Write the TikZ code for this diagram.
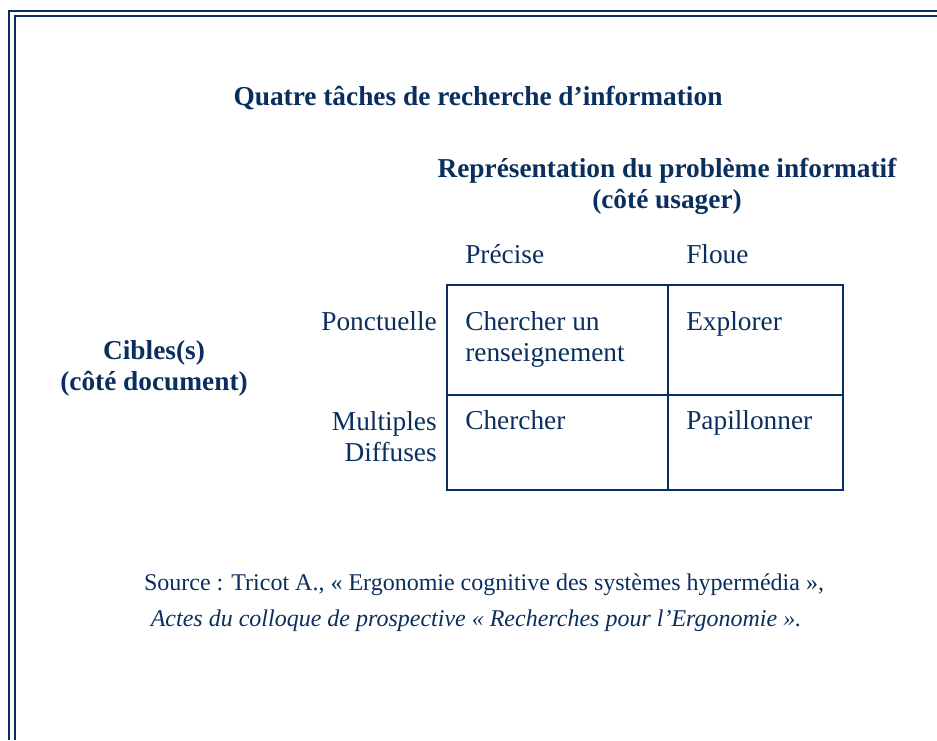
\documentclass[tikz,border=0pt]{standalone}
\usepackage{fontspec}
\setmainfont{Liberation Serif}
\usepackage{xcolor}
\usepackage{tikz}
\usetikzlibrary{positioning}
\definecolor{marine}{RGB}{10,46,94}

\begin{document}
\begin{tikzpicture}[x=0.75pt, y=-0.75pt,
        texte/.style={inner sep=0pt, text=marine, font=\fontsize{20.5}{23.25}\selectfont},
        gras/.style={texte, font=\fontsize{20.5}{23.25}\selectfont\bfseries},
        source/.style={inner sep=0pt, text=marine, font=\fontsize{18}{22}\selectfont},
        cadre/.style={draw=marine, line width=1.5pt},
        grille/.style={draw=marine, line width=1.9pt}]

        \useasboundingbox (0,0) rectangle (937,740);

        % Frame
        \draw [cadre] (9,740) -- (9,11) -- (937,11);
        \draw [cadre] (15,740) -- (15,16) -- (937,16);

        % Titles
        \node [gras, anchor=base] (titre) at (478,105) {Quatre tâches de recherche d'information};
        \node [gras, anchor=base] (repr) at (667,177) {Représentation du problème informatif};
        \node [gras, anchor=base] (usager) at (667,208) {(côté usager)};
        \node [gras, anchor=base] (cibles) at (154,359) {Cibles(s)};
        \node [gras, anchor=base] (document) at (154,390) {(côté document)};

        % Column and row headings
        \node [texte, anchor=base west] (precise) at (465,263) {Précise};
        \node [texte, anchor=base west] (floue) at (686,263) {Floue};
        \node [texte, anchor=base east] (ponct) at (437,330) {Ponctuelle};
        \node [texte, anchor=base east] (multi) at (437,430) {Multiples};
        \node [texte, anchor=base east] (diff) at (437,461) {Diffuses};

        % Grid
        \draw [grille] (447,285) rectangle (843,490);
        \draw [grille] (668,285) -- (668,490);
        \draw [grille] (447,395) -- (843,395);

        % Cells
        \node [texte, anchor=base west] (rens) at (465,330) {Chercher un};
        \node [texte, anchor=base west] (rens2) at (465,361) {renseignement};
        \node [texte, anchor=base west] (expl) at (686,330) {Explorer};
        \node [texte, anchor=base west] (cherch) at (465,429) {Chercher};
        \node [texte, anchor=base west] (papil) at (686,429) {Papillonner};

        % Source
        \node [source, anchor=base] (src) at (484,590) {Source : Tricot A., « Ergonomie cognitive des systèmes hypermédia »,};
        \node [source, anchor=base, font=\fontsize{18}{22}\selectfont\itshape] (actes) at (476,626) {Actes du colloque de prospective « Recherches pour l'Ergonomie ».};

    \end{tikzpicture}
\end{document}
